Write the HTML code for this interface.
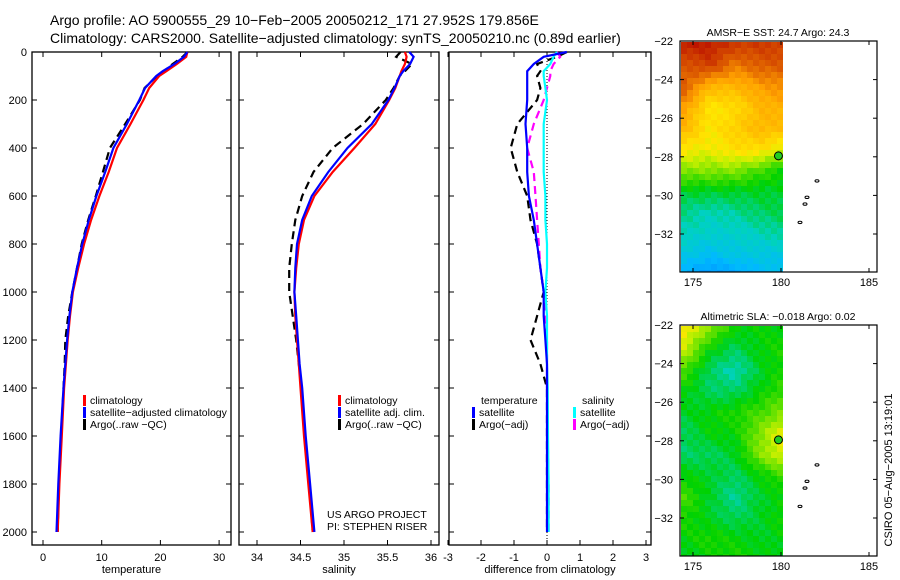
<!DOCTYPE html>
<html><head><meta charset="utf-8"><style>
body{margin:0;background:#fff;}
svg{display:block;font-family:"Liberation Sans",sans-serif;}
</style></head><body>
<svg id="fig" width="900" height="580" viewBox="0 0 900 580">
<text x="50" y="25" font-size="14">Argo profile: AO 5900555_29 10−Feb−2005 20050212_171 27.952S 179.856E</text>
<text x="50" y="43" font-size="14">Climatology: CARS2000. Satellite−adjusted climatology: synTS_20050210.nc (0.89d earlier)</text>
<g id="g"></g>
<text transform="translate(892,470) rotate(-90)" text-anchor="middle" font-size="11">CSIRO 05−Aug−2005 13:19:01</text>
</svg>
<script>
// ---- data ----
const depths=[0,20,50,80,100,150,200,300,400,500,600,700,800,900,1000,1100,1200,1300,1400,1600,1800,2000];
const tempClim=[24.6,24.4,22.8,21.0,19.8,18.1,17.1,14.9,12.6,11.2,9.6,8.2,7.0,6.0,5.1,4.6,4.2,3.9,3.6,3.2,2.8,2.5];
const tempSat=[24.6,24.0,22.4,20.4,19.3,17.4,16.4,14.3,12.0,10.6,9.1,7.8,6.7,5.8,5.0,4.5,4.1,3.8,3.5,3.0,2.6,2.3];
const tempArgo=[24.6,23.8,22.1,20.6,19.4,17.3,16.5,14.0,11.4,10.2,9.0,7.7,6.6,5.8,5.0,4.3,3.8,3.7,3.5,3.1,2.7,2.5];
const salClim=[35.70,35.72,35.70,35.66,35.64,35.59,35.52,35.36,35.12,34.87,34.66,34.54,34.48,34.45,34.43,34.44,34.46,34.48,34.50,34.54,34.59,34.64];
const salSat=[35.75,35.80,35.76,35.68,35.64,35.58,35.51,35.32,35.04,34.82,34.63,34.52,34.46,34.44,34.43,34.45,34.47,34.49,34.52,34.56,34.61,34.66];
const salArgo=[35.65,35.60,35.78,35.70,35.64,35.57,35.48,35.22,34.87,34.65,34.52,34.44,34.40,34.37,34.37,34.41,34.45,34.48,34.51,34.55,34.60,34.64];
const dTempSat=[0.6,-0.1,-0.4,-0.6,-0.6,-0.6,-0.6,-0.65,-0.6,-0.6,-0.55,-0.4,-0.3,-0.2,-0.1,-0.1,-0.05,0,0,0,0,0];
const dTempArgo=[0.6,0.3,-0.3,-0.2,-0.3,-0.2,-0.3,-0.9,-1.1,-0.9,-0.6,-0.5,-0.3,-0.2,-0.1,-0.3,-0.5,-0.2,0,0,0,0];
const dSalSat=[0.3,0.2,0.1,-0.1,-0.1,-0.05,0.0,-0.1,-0.1,-0.1,-0.05,-0.05,0,0,-0.05,0,0,0,0.02,0.03,0.05,0.05];
const dSalArgo=[0.3,0.4,0.2,0.1,0.1,0.0,-0.1,-0.4,-0.6,-0.4,-0.35,-0.3,-0.25,-0.2,-0.1,-0.05,0,0,0,0.02,0.05,0.05];
const sstGrid=[[.95,.95,.9,.9,.9],[.85,.9,.8,.85,.85],[.85,.7,.7,.75,.78],[.75,.6,.62,.7,.72],[.7,.6,.65,.7,.68],[.6,.58,.62,.62,.55],[.5,.5,.5,.45,.4],[.38,.38,.38,.38,.38],[.33,.3,.32,.35,.36],[.3,.28,.28,.3,.33],[.25,.22,.25,.25,.25],[.18,.12,.15,.2,.22]];
const slaGrid=[[.6,.5,.4,.4,.4],[.55,.4,.35,.4,.42],[.45,.35,.3,.38,.42],[.4,.35,.35,.4,.45],[.38,.4,.42,.45,.5],[.35,.4,.4,.5,.6],[.35,.35,.38,.5,.58],[.4,.38,.35,.4,.45],[.45,.38,.32,.38,.4],[.42,.38,.35,.38,.42],[.4,.42,.4,.38,.4],[.38,.4,.42,.4,.38]];
const depthTicks=[0,200,400,600,800,1000,1200,1400,1600,1800,2000];
const tempTicks=[0,10,20,30];
const salTicks=[34,34.5,35,35.5,36];
const diffTicks=[-3,-2,-1,0,1,2,3];
const latTicks=[-22,-24,-26,-28,-30,-32];
const lonTicks=[175,180,185];

const NS="http://www.w3.org/2000/svg";
const G=document.getElementById('g');
function el(t,a,p){const e=document.createElementNS(NS,t);for(const k in a)e.setAttribute(k,a[k]);(p||G).appendChild(e);return e;}
const yD=d=>52+d*0.24;
function panel(name,x0,x1,xs,ticks,label){
  const f=el('rect',{x:x0,y:52,width:x1-x0,height:493,fill:'none',stroke:'#000','stroke-width':1.3});
  
  
  ticks.forEach(t=>{const x=xs(t);
    el('line',{x1:x,x2:x,y1:52,y2:57,stroke:'#000'});el('line',{x1:x,x2:x,y1:545,y2:540,stroke:'#000'});
    const tx=el('text',{x:x,y:561,'font-size':11,'text-anchor':'middle'});tx.textContent=t;
    
    });
  depthTicks.forEach(d=>{const y=yD(d);
    el('line',{x1:x0,x2:x0+5,y1:y,y2:y,stroke:'#000'});el('line',{x1:x1,x2:x1-5,y1:y,y2:y,stroke:'#000'});});
  const l=el('text',{x:(x0+x1)/2,y:573,'font-size':11,'text-anchor':'middle'});l.textContent=label;
  
  
}
function series(name,vals,xs,color,dash){
  const pts=vals.map((v,i)=>xs(v).toFixed(1)+','+yD(depths[i]).toFixed(1)).join(' ');
  const p=el('polyline',{points:pts,fill:'none',stroke:color,'stroke-width':2.2,'stroke-dasharray':dash||'none'});
  
  
}
function txt(x,y,s,name,size){const t=el('text',{x:x,y:y,'font-size':size||11});t.textContent=s;
  
  return t;}
function leg(x,y,color,s,name){el('rect',{x:x,y:y-9,width:3,height:11,fill:color});txt(x+7,y,s,name,10.5);}

// panel 1
const xT=v=>43+v*5.87;
panel('temperature-panel',32,231,xT,tempTicks,'temperature');
depthTicks.forEach(d=>{const t=el('text',{x:27,y:yD(d)+4,'font-size':11,'text-anchor':'end'});t.textContent=d;
  
  });
series('temp-argo-line',tempArgo,xT,'#000','8,5');
series('temp-clim-line',tempClim,xT,'#f00');
series('temp-sat-line',tempSat,xT,'#00f');
leg(83,404,'#f00','climatology','legend-climatology');
leg(83,416,'#00f','satellite−adjusted climatology','legend-satellite-adjusted');
leg(83,428,'#000','Argo(..raw −QC)','legend-argo');

// panel 2
const xS=v=>257+(v-34)*87;
panel('salinity-panel',239,439,xS,salTicks,'salinity');
series('sal-argo-line',salArgo,xS,'#000','8,5');
series('sal-clim-line',salClim,xS,'#f00');
series('sal-sat-line',salSat,xS,'#00f');
leg(338,404,'#f00','climatology','legend2-climatology');
leg(338,416,'#00f','satellite adj. clim.','legend2-satellite');
leg(338,428,'#000','Argo(..raw −QC)','legend2-argo');
txt(327,518,'US ARGO PROJECT','project-label',10.5);
txt(327,530,'PI: STEPHEN RISER','pi-label',10.5);

// panel 3
const xD=v=>547+v*33;
panel('difference-panel',449,651,xD,diffTicks,'difference from climatology');
el('line',{x1:xD(0),x2:xD(0),y1:52,y2:545,stroke:'#000','stroke-dasharray':'1,2'});
series('diff-temp-argo-line',dTempArgo,xD,'#000','8,5');
series('diff-sal-argo-line',dSalArgo,xD,'#f0f','8,5');
series('diff-sal-sat-line',dSalSat,xD,'#0ff');
series('diff-temp-sat-line',dTempSat,xD,'#00f');
txt(481,404,'temperature','legend3-temperature-heading',10.5);
leg(472,416,'#00f','satellite','legend3-temp-satellite');
leg(472,428,'#000','Argo(−adj)','legend3-temp-argo');
txt(582,404,'salinity','legend3-salinity-heading',10.5);
leg(573,416,'#0ff','satellite','legend3-sal-satellite');
leg(573,428,'#f0f','Argo(−adj)','legend3-sal-argo');

// maps
const stops=[[0,[0,100,255]],[.2,[0,185,255]],[.3,[0,210,190]],[.4,[0,210,0]],[.55,[200,240,0]],[.6,[255,230,0]],[.75,[255,160,0]],[.85,[220,90,0]],[1,[180,0,0]]];
function cmap(v){for(let i=1;i<stops.length;i++){if(v<=stops[i][0]){const a=stops[i-1],b=stops[i],t=(v-a[0])/(b[0]-a[0]);
  return 'rgb('+a[1].map((c,k)=>Math.round(c+(b[1][k]-c)*t)).join(',')+')';}}return 'rgb(180,0,0)';}
function samp(gr,u,v){const r=v*(gr.length-1),c=u*(gr[0].length-1);const r0=Math.floor(r),c0=Math.floor(c);
  const r1=Math.min(r0+1,gr.length-1),c1=Math.min(c0+1,gr[0].length-1),fr=r-r0,fc=c-c0;
  return gr[r0][c0]*(1-fr)*(1-fc)+gr[r0][c1]*(1-fr)*fc+gr[r1][c0]*fr*(1-fc)+gr[r1][c1]*fr*fc;}
function map(name,top,grid,title){
  const bot=top+231, lx=lon=>693+(lon-175)*17.6, ly=lat=>top+(-22-lat)*19.3;
  const tt=el('text',{x:778,y:top-5,'font-size':10.5,'text-anchor':'middle'});tt.textContent=title;
  
  
  const c=6,W=102,H=230;
  for(let y=0;y<H;y+=c)for(let x=0;x<W;x+=c){
    const jit=((x*7+y*13)%5-2)*0.008;
    el('rect',{x:681+x,y:top+1+y,width:Math.min(c,W-x),height:Math.min(c,H-y),fill:cmap(Math.max(0,Math.min(1,samp(grid,x/W,y/H)+jit)))});}
  const f=el('rect',{x:680,y:top,width:197,height:231,fill:'none',stroke:'#000','stroke-width':1.2});
  
  
  latTicks.forEach(l=>{const y=ly(l);el('line',{x1:680,x2:684,y1:y,y2:y,stroke:'#000'});el('line',{x1:877,x2:873,y1:y,y2:y,stroke:'#000'});
    const t=el('text',{x:673,y:y+4,'font-size':11,'text-anchor':'end'});t.textContent=String(l).replace('-','−');
    
    });
  lonTicks.forEach(l=>{const x=lx(l);el('line',{x1:x,x2:x,y1:bot,y2:bot-4,stroke:'#000'});el('line',{x1:x,x2:x,y1:top,y2:top+4,stroke:'#000'});
    const t=el('text',{x:x,y:bot+14,'font-size':11,'text-anchor':'middle'});t.textContent=l;
    
    });
  [[817,ly(-29.25)],[807,ly(-30.1)],[805,ly(-30.45)],[800,ly(-31.4)]].forEach(p=>el('ellipse',{cx:p[0],cy:p[1],rx:2,ry:1.2,fill:'none',stroke:'#000','stroke-width':1}));
  const m=el('circle',{cx:lx(179.856),cy:ly(-27.952),r:4,fill:'#2c2',stroke:'#000','stroke-width':1});
  
  
}
map('sst-map',41,sstGrid,'AMSR−E SST: 24.7 Argo: 24.3');
map('sla-map',325,slaGrid,'Altimetric SLA: −0.018 Argo: 0.02');
</script>
</body></html>
